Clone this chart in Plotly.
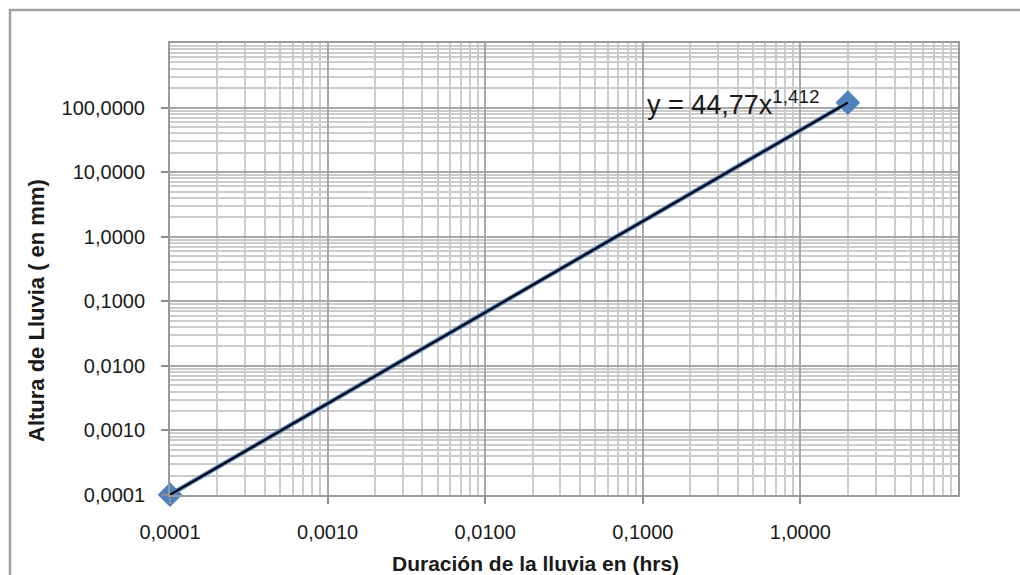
import numpy as np
import plotly.graph_objects as go

# Data
duracion_hrs = [0.0001, 2.0]
altura_mm = [0.000101, 119.1]

x_tickvals = [0.0001, 0.001, 0.01, 0.1, 1.0]
x_ticktext = ["0,0001", "0,0010", "0,0100", "0,1000", "1,0000"]
y_tickvals = [0.0001, 0.001, 0.01, 0.1, 1.0, 10.0, 100.0]
y_ticktext = ["0,0001", "0,0010", "0,0100", "0,1000", "1,0000", "10,0000", "100,0000"]

x_title = "Duración de la lluvia en (hrs)"
y_title = "Altura de Lluvia ( en mm)"

# Power fit y = a x^b (from data)
b, loga = np.polyfit(np.log10(duracion_hrs), np.log10(altura_mm), 1)
a = 10 ** loga
xfit = np.array([min(duracion_hrs), max(duracion_hrs)])
yfit = a * xfit ** b
eq_text = "y = " + f"{a:.2f}".replace(".", ",") + "x<sup>" + f"{b:.3f}".replace(".", ",") + "</sup>"

minor_x = [k * 10.0 ** e for e in range(-4, 1) for k in range(2, 10)]
minor_y = [k * 10.0 ** e for e in range(-4, 3) for k in range(2, 10)]

FONT = "Liberation Sans, Arial, sans-serif"

fig = go.Figure()
fig.add_trace(go.Scatter(
    x=duracion_hrs, y=altura_mm, mode="lines+markers",
    line=dict(color="#4a7ebb", width=4.5),
    marker=dict(symbol="diamond", size=19, color="#4f81bd"),
    showlegend=False, cliponaxis=False,
))
fig.add_trace(go.Scatter(
    x=xfit, y=yfit, mode="lines",
    line=dict(color="#000000", width=2),
    showlegend=False, cliponaxis=False,
))

fig.add_annotation(
    x=np.log10(0.103), y=np.log10(118), xref="x", yref="y",
    text=eq_text, showarrow=False, xanchor="left", yanchor="middle",
    font=dict(family=FONT, size=27, color="#1a1a1a"),
)

L, R, T, B = 170, 62, 43, 80
W, H = 1020, 575
pw, ph = W - L - R, H - T - B
def px(xp): return (xp - L) / pw
def py(yp): return (H - B - yp) / ph

# axis titles
fig.add_annotation(x=px(535), y=py(563), xref="paper", yref="paper",
                   text="<b>" + x_title + "</b>", showarrow=False,
                   xanchor="center", yanchor="middle",
                   font=dict(family=FONT, size=21, color="#1a1a1a"))
fig.add_annotation(x=px(36), y=py(311), xref="paper", yref="paper",
                   text="<b>" + y_title + "</b>", showarrow=False, textangle=-90,
                   xanchor="center", yanchor="middle",
                   font=dict(family=FONT, size=22, color="#1a1a1a"))

# chart area border
fig.add_shape(type="rect", xref="paper", yref="paper",
              x0=px(10), x1=px(1030), y0=py(10), y1=py(585),
              line=dict(color="#a0a0a0", width=2.5), layer="below")

axis_common = dict(
    type="log", showline=True, mirror=True, linecolor="#9a9a9a", linewidth=2,
    showgrid=True, gridcolor="#a8a8a8", gridwidth=2,
    ticks="outside", ticklen=7, tickcolor="#8a8a8a", tickwidth=2,
    tickfont=dict(family=FONT, size=20, color="#1a1a1a"),
    zeroline=False,
)

fig.update_xaxes(
    **axis_common, range=[-4, 1], tickvals=x_tickvals, ticktext=x_ticktext,
    ticklabelstandoff=11,
    minor=dict(tickvals=minor_x, showgrid=True, gridcolor="#cccccc", gridwidth=2, ticks=""),
)
fig.update_yaxes(
    **axis_common, range=[-4, 3], tickvals=y_tickvals, ticktext=y_ticktext,
    ticklabelstandoff=12,
    minor=dict(tickvals=minor_y, showgrid=True, gridcolor="#cccccc", gridwidth=2, ticks=""),
)

fig.update_layout(
    width=W, height=H, margin=dict(l=L, r=R, t=T, b=B, autoexpand=False),
    paper_bgcolor="white", plot_bgcolor="white",
)

fig.write_html("out.html")
